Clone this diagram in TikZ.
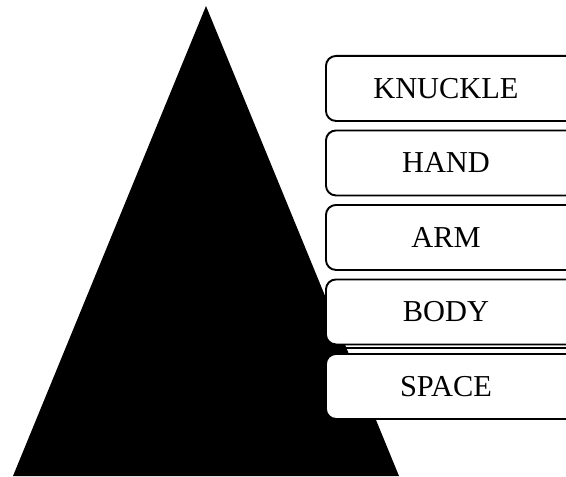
\documentclass[tikz,border=0pt]{standalone}
\usepackage{fontspec}
\setmainfont{Liberation Serif}
\usetikzlibrary{positioning}

\begin{document}
\begin{tikzpicture}[
    x=0.5pt, y=-0.5pt,
    node distance=3.8pt,
    layer/.style={rectangle, draw, rounded corners=5pt, fill=white, line width=0.95pt,
        minimum width=150pt, minimum height=32.5pt, inner sep=0pt},
    layertext/.style={font=\fontsize{15.2}{18}\selectfont, xshift=-15pt}
]
\useasboundingbox (0,0) rectangle (566,476);
\clip (0,0) rectangle (566,476);

% stray edge under BODY, hidden left of the pyramid
\draw[line width=0.65pt] (340,348) -- (566,348);

% pyramid
\fill[black] (206,6) -- (13,476) -- (399,476) -- cycle;

% layers, top to bottom
\node[layer, anchor=north west] (knuckle) at (325,55) {};
\node[layer, below=of knuckle] (hand) {};
\node[layer, below=of hand] (arm) {};
\node[layer, below=of arm] (body) {};
\node[layer, below=of body] (space) {};

\node[layertext] (knuckletext) at (knuckle) {KNUCKLE};
\node[layertext] (handtext) at (hand) {HAND};
\node[layertext] (armtext) at (arm) {ARM};
\node[layertext] (bodytext) at (body) {BODY};
\node[layertext] (spacetext) at (space) {SPACE};
\end{tikzpicture}
\end{document}
